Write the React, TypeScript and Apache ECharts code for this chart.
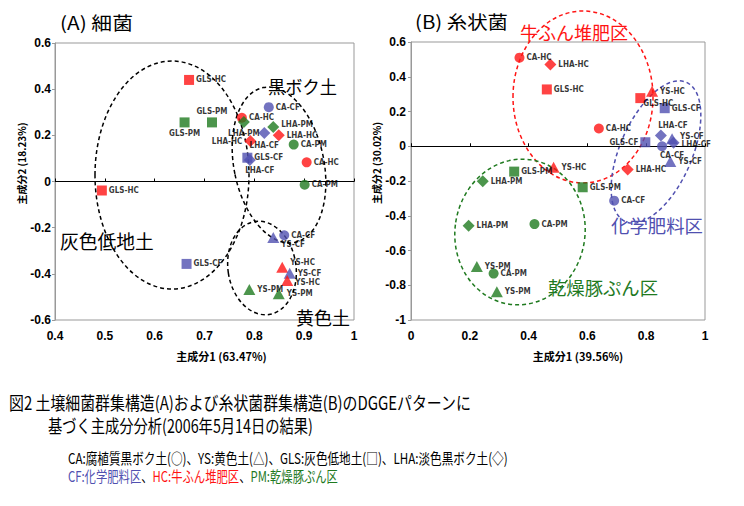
import React, { useEffect, useRef } from 'react';
import * as echarts from 'echarts';

// ---------- data ----------
const A_NAMES = ['GLS-HC', 'CA-CF', 'CA-HC', 'GLS-PM', 'GLS-PM', 'LHA-PM', 'LHA-PM', 'LHA-CF', 'LHA-HC', 'LHA-HC', 'CA-PM', 'GLS-CF', 'LHA-CF', 'CA-HC', 'GLS-HC', 'CA-PM', 'CA-CF', 'YS-CF', 'YS-HC', 'YS-CF', 'YS-HC', 'YS-PM', 'YS-PM', 'GLS-CF'];
const A_PC1 = [0.669, 0.829, 0.775, 0.715, 0.660, 0.779, 0.838, 0.820, 0.849, 0.792, 0.879, 0.786, 0.791, 0.905, 0.494, 0.901, 0.860, 0.838, 0.856, 0.871, 0.866, 0.790, 0.849, 0.664];
const A_PC2 = [0.440, 0.322, 0.276, 0.256, 0.256, 0.258, 0.236, 0.210, 0.200, 0.175, 0.160, 0.103, 0.093, 0.083, -0.039, -0.014, -0.233, -0.243, -0.372, -0.397, -0.429, -0.468, -0.486, -0.357];

const B_NAMES = ['CA-HC', 'LHA-HC', 'GLS-HC', 'YS-HC', 'GLS-HC', 'GLS-CF', 'CA-HC', 'LHA-CF', 'GLS-CF', 'CA-CF', 'YS-CF', 'LHA-CF', 'YS-CF', 'YS-HC', 'GLS-PM', 'LHA-HC', 'LHA-PM', 'GLS-PM', 'CA-CF', 'LHA-PM', 'CA-PM', 'YS-PM', 'CA-PM', 'YS-PM'];
const B_PC1 = [0.369, 0.474, 0.462, 0.820, 0.780, 0.863, 0.639, 0.850, 0.797, 0.854, 0.888, 0.893, 0.882, 0.485, 0.351, 0.737, 0.244, 0.584, 0.691, 0.196, 0.420, 0.224, 0.281, 0.292];
const B_PC2 = [0.510, 0.471, 0.327, 0.317, 0.277, 0.219, 0.102, 0.062, 0.023, 0.000, 0.043, 0.020, -0.088, -0.121, -0.146, -0.134, -0.202, -0.236, -0.313, -0.458, -0.448, -0.692, -0.733, -0.837];

const A_TITLE = '(A) 細菌';
const B_TITLE = '(B) 糸状菌';
const A_XNAME = '主成分1 (63.47%)';
const A_YNAME = '主成分2 (18.23%)';
const B_XNAME = '主成分1 (39.56%)';
const B_YNAME = '主成分2 (30.02%)';

const CAPTION1 = '図2 土壌細菌群集構造(A)および糸状菌群集構造(B)のDGGEパターンに';
const CAPTION2 = '基づく主成分分析(2006年5月14日の結果)';
const CAPTION3 = 'CA:腐植質黒ボク土(○)、YS:黄色土(△)、GLS:灰色低地土(□)、LHA:淡色黒ボク土(◇)';
const CAPTION4 = ['CF:化学肥料区', '、', 'HC:牛ふん堆肥区', '、', 'PM:乾燥豚ぷん区'];

// ---------- styling ----------
const RED = '#ff1414';
const BLUE = '#5050b0';
const GREEN = '#1f7a1f';
const TREAT_COLOR: Record<string, string> = { CF: BLUE, HC: RED, PM: GREEN };
const SOIL_SYMBOL: Record<string, string> = { CA: 'circle', YS: 'triangle', GLS: 'rect', LHA: 'diamond' };
const SOIL_SIZE: Record<string, any> = { CA: 10, YS: [12, 11], GLS: 10, LHA: 12 };

// label placement codes (style only)
const A_LBL = ['r', 'r', 'r', 't', 'b', 'b', 'rh', 'b', 'r', 'l', 'r', 'r', 'br', 'r', 'r', 'r', 'r', 'rl', 'rh5', 'r', 'rl2', 'r', 'r', 'r'];
const B_LBL = ['r', 'r', 'r', 'r', 'rb', 'r', 'r', 'tr', 'l', 'br', 'rh2', 'rl2', 'r', 'r', 'r', 'r', 'r', 'r', 'r', 'r', 'r', 'r', 'r', 'r'];
const LBL: Record<string, any> = {
  r: { position: 'right' },
  l: { position: 'left' },
  t: { position: 'top' },
  b: { position: 'bottom' },
  br: { position: 'bottom', offset: [10, -2] },
  rl: { position: 'right', offset: [0, 7] },
  rh: { position: 'right', offset: [0, -3] },
  rh5: { position: 'right', offset: [0, -5] },
  rh2: { position: 'right', offset: [0, -2] },
  rl2: { position: 'right', offset: [0, 2] },
  tr: { position: 'top', offset: [12, 2] },
  rb: { position: 'right', offset: [-4, 5] },
};

const CJK = 'Noto Sans CJK JP';
const NUM_FONT = 'Liberation Sans';
const PT_FONT = "'Liberation Sans Narrow', 'DejaVu Sans Condensed', sans-serif";

function buildData(names: string[], xs: number[], ys: number[], lbl: string[]) {
  return names.map((n, i) => {
    const [soil, treat] = n.split('-');
    return {
      name: n,
      value: [xs[i], ys[i]],
      symbol: SOIL_SYMBOL[soil],
      symbolSize: SOIL_SIZE[soil],
      itemStyle: { color: TREAT_COLOR[treat] },
      label: { ...LBL[lbl[i]] },
    };
  });
}

let measureCtx: CanvasRenderingContext2D | null = null;
function textWidth(s: string, size: number, weight = 'normal') {
  if (!measureCtx) measureCtx = document.createElement('canvas').getContext('2d');
  if (!measureCtx) return s.length * size;
  measureCtx.font = `${weight} ${size}px "${CJK}"`;
  return measureCtx.measureText(s).width;
}

function fitText(text: string, left: number, cy: number, width: number, size: number, color: string, weight = 'normal') {
  const w = textWidth(text, size, weight);
  return {
    type: 'text',
    x: left,
    y: cy,
    scaleX: width / w,
    silent: true,
    z: 10,
    style: {
      text,
      fontSize: size,
      fontFamily: CJK,
      fontWeight: weight,
      fill: color,
      align: 'left',
      verticalAlign: 'middle',
      textAlign: 'left',
      textVerticalAlign: 'middle',
    },
  };
}

function segTexts(segs: string[], colors: string[], left: number, cy: number, width: number, size: number) {
  const total = textWidth(segs.join(''), size);
  const sc = width / total;
  let acc = 0;
  return segs.map((s, i) => {
    const el: any = fitText(s, left + acc * sc, cy, 1, size, colors[i]);
    el.scaleX = sc;
    acc += textWidth(s, size);
    return el;
  });
}

function ellipse(x: number, y: number, rx: number, ry: number, rot: number, color: string) {
  return {
    type: 'ellipse',
    x,
    y,
    rotation: rot,
    silent: true,
    shape: { cx: 0, cy: 0, rx, ry },
    style: { fill: 'none', stroke: color, lineWidth: 1.5, lineDash: [4, 3] },
  };
}

function axisLabelStyle(margin: number) {
  return { fontSize: 12, fontWeight: 'bold', color: '#000', fontFamily: NUM_FONT, margin };
}

export default function App() {
  const ref = useRef<HTMLDivElement>(null);

  useEffect(() => {
    if (!ref.current) return;
    const chart = echarts.init(ref.current, undefined, { renderer: 'svg' });

    const nameStyle = (pad: number, size: number) => ({
      fontSize: size,
      fontWeight: 'bold',
      fontFamily: CJK,
      color: '#000',
      padding: [0, 0, 0, pad],
    });

    const labelAxis = (grid: number, min: number, max: number, interval: number, name: string, pad: number) => ({
      gridIndex: grid,
      type: 'value',
      min,
      max,
      interval,
      position: 'bottom',
      axisLine: { show: false, onZero: false },
      axisTick: { show: false },
      splitLine: { show: false },
      axisLabel: axisLabelStyle(10),
      name,
      nameLocation: 'middle',
      nameGap: 30,
      nameTextStyle: nameStyle(pad, 11),
    });
    const zeroAxis = (grid: number, min: number, max: number, interval: number) => ({
      gridIndex: grid,
      type: 'value',
      min,
      max,
      interval,
      position: 'top',
      axisLine: { show: true, onZero: true, lineStyle: { color: '#000', width: 1 } },
      axisTick: { show: true, length: 3, lineStyle: { color: '#000' } },
      axisLabel: { show: false },
      splitLine: { show: false },
    });
    const yAxis = (grid: number, min: number, max: number, name: string, gap: number, margin: number) => ({
      gridIndex: grid,
      type: 'value',
      min,
      max,
      interval: 0.2,
      axisLine: { show: true, onZero: false, lineStyle: { color: '#999' } },
      axisTick: { show: true, length: 3, lineStyle: { color: '#999' } },
      splitLine: { show: false },
      axisLabel: axisLabelStyle(margin),
      name,
      nameLocation: 'middle',
      nameRotate: 90,
      nameGap: gap,
      nameTextStyle: nameStyle(36, 10),
    });

    const seriesLabel = {
      show: true,
      formatter: '{b}',
      fontSize: 8,
      fontWeight: 'bold',
      color: '#000',
      fontFamily: PT_FONT,
      distance: 2,
    };

    const graphic: any[] = [
      ellipse(172, 175, 77, 114, 0, '#000'),
      ellipse(279, 165, 45, 79, 0.2, '#000'),
      ellipse(262, 268, 34, 47, 0.15, '#000'),
      ellipse(583, 97, 70, 86, 0, RED),
      ellipse(656, 152, 36, 76, -0.41, BLUE),
      ellipse(520, 232, 65, 73, -0.15, GREEN),
      fitText(A_TITLE, 60, 22, 73, 18, '#000'),
      fitText(B_TITLE, 415, 22, 93, 18, '#000'),
      fitText('黒ボク土', 268, 86, 69, 18, '#000'),
      fitText('灰色低地土', 60, 240, 94, 19, '#000'),
      fitText('黄色土', 296, 317, 54, 18, '#000'),
      fitText('牛ふん堆肥区', 520, 32, 108, 18, RED),
      fitText('化学肥料区', 611, 225, 92, 18, BLUE),
      fitText('乾燥豚ぷん区', 548, 287, 110, 18, GREEN),
      fitText(CAPTION1, 9, 402, 463, 18, '#000'),
      fitText(CAPTION2, 48, 425, 265, 18, '#000'),
      fitText(CAPTION3, 68, 457, 440, 15, '#000'),
      ...segTexts(CAPTION4, [BLUE, '#000', RED, '#000', GREEN], 68, 476, 270, 15),
    ];

    chart.setOption({
      animation: false,
      backgroundColor: '#fff',
      grid: [
        { left: 55, top: 43, width: 299, height: 277, show: true, borderColor: '#999', borderWidth: 1, backgroundColor: 'transparent' },
        { left: 411, top: 42, width: 294, height: 278, show: true, borderColor: '#999', borderWidth: 1, backgroundColor: 'transparent' },
      ],
      xAxis: [
        labelAxis(0, 0.4, 1, 0.1, A_XNAME, 34),
        zeroAxis(0, 0.4, 1, 0.1),
        labelAxis(1, 0, 1, 0.2, B_XNAME, 40),
        zeroAxis(1, 0, 1, 0.2),
      ],
      yAxis: [
        yAxis(0, -0.6, 0.6, A_YNAME, 19, 4),
        yAxis(1, -1, 0.6, B_YNAME, 25, 5),
      ],
      series: [
        {
          type: 'scatter',
          xAxisIndex: 0,
          yAxisIndex: 0,
          data: buildData(A_NAMES, A_PC1, A_PC2, A_LBL),
          label: seriesLabel,
          emphasis: { disabled: true },
        },
        {
          type: 'scatter',
          xAxisIndex: 2,
          yAxisIndex: 1,
          data: buildData(B_NAMES, B_PC1, B_PC2, B_LBL),
          label: seriesLabel,
          emphasis: { disabled: true },
        },
      ],
      graphic,
    });

    return () => chart.dispose();
  }, []);

  return <div ref={ref} style={{ position: 'absolute', left: 0, top: 0, width: 744, height: 506, background: '#fff' }} />;
}
